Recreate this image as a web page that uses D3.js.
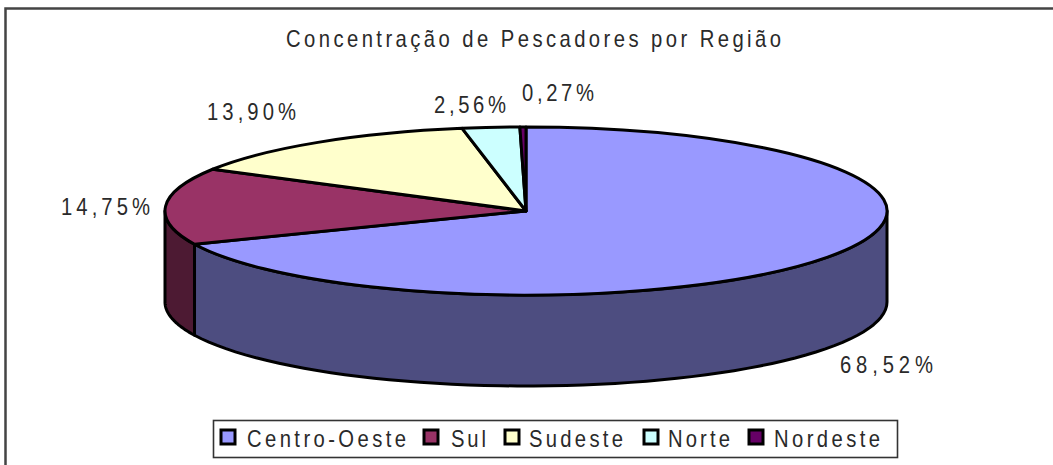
<!DOCTYPE html>
<html><head><meta charset="utf-8">
<script src="https://cdn.jsdelivr.net/npm/d3@7/dist/d3.min.js"></script>
<style>
html,body{margin:0;padding:0;background:#fff}
svg{display:block}
text{font-family:"Liberation Sans",Arial,sans-serif;fill:#2a2a2a}
</style></head><body>
<svg id="c" width="1053" height="465"></svg>
<script>
const categories = ["Centro-Oeste","Sul","Sudeste","Norte","Nordeste"];
const values = [68.52,14.75,13.90,2.56,0.27];
const valueLabels = ["68,52%","14,75%","13,90%","2,56%","0,27%"];
const title = "Concentração de Pescadores por Região";
const topColors = ["#9999ff","#993366","#ffffcc","#ccffff","#660066"];
const sideColors = ["#4d4d80","#4d1a33","#80806a","#668080","#330033"];

const FS = 23, SX = 0.88;
const cx = 526, cy = 211, rx = 361, ry = 84, depth = 91;
const svg = d3.select("#c");

svg.append("path").attr("d","M5.5 465V8.5H1053").attr("fill","none").attr("stroke","#444").attr("stroke-width",2.5);

const pie = d3.pie().sort(null).value(d=>d);
const arcs = pie(values);
const px = a => cx + rx*Math.sin(a), py = (a,dz=0) => cy - ry*Math.cos(a) + dz;

const lo = Math.PI/2, hi = 3*Math.PI/2;
arcs.forEach((d,i)=>{
  const a0 = Math.max(d.startAngle,lo), a1 = Math.min(d.endAngle,hi);
  if(a1<=a0) return;
  const ts = d3.range(0,61).map(k=>a0+(a1-a0)*k/60);
  const pts = ts.map(a=>[px(a),py(a)]).concat(ts.slice().reverse().map(a=>[px(a),py(a,depth)]));
  svg.append("path").attr("d",d3.line()(pts)+"Z")
    .attr("fill",sideColors[i]).attr("stroke","#000").attr("stroke-width",3).attr("stroke-linejoin","round");
});

const arc = d3.arc().innerRadius(0).outerRadius(1);
svg.append("g").attr("transform",`translate(${cx},${cy}) scale(${rx},${ry})`)
  .selectAll("path").data(arcs).join("path")
  .attr("d",arc)
  .attr("fill",(d,i)=>topColors[i])
  .attr("stroke","#000").attr("stroke-width",3).attr("stroke-linejoin","round")
  .attr("vector-effect","non-scaling-stroke");

function fit(sel,x,y,w){
  return sel.append("text").attr("transform",`translate(${x},${y}) scale(${SX},1)`).attr("font-size",FS)
    .attr("textLength",w/SX).attr("lengthAdjust","spacing");
}
fit(svg,286,47,495).text(title);

const labelBoxes = [[840,373,93],[61,215,89],[207,120,89],[434,113,72],[522,101,72]];
valueLabels.forEach((t,i)=>{const b=labelBoxes[i];fit(svg,b[0],b[1],b[2]).text(t);});

svg.append("rect").attr("x",213.5).attr("y",420.5).attr("width",684).attr("height",37)
  .attr("fill","#fff").attr("stroke","#333").attr("stroke-width",1.6);
const legendSwatch = [228,431,512,651,756];
const legendText = [[247,159],[451,35],[529,94],[668,62],[774,106]];
categories.forEach((c,i)=>{
  svg.append("rect").attr("x",legendSwatch[i]-7).attr("y",430).attr("width",14).attr("height",14)
    .attr("fill",topColors[i]).attr("stroke","#000").attr("stroke-width",3);
  fit(svg,legendText[i][0],447,legendText[i][1]).text(c);
});
</script></body></html>
